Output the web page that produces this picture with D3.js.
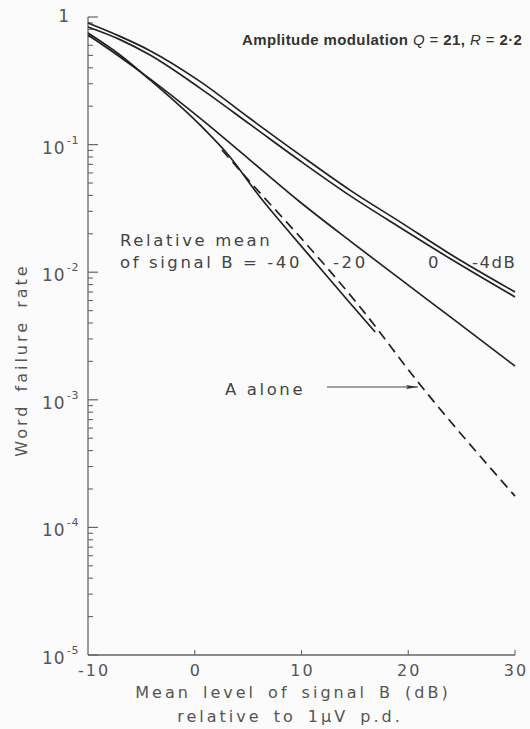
<!DOCTYPE html>
<html>
<head>
<meta charset="utf-8">
<script src="https://cdn.jsdelivr.net/npm/d3@7"></script>
<style>
  body { margin: 0; background: #fbfbfb; }
  svg { display: block; }
</style>
</head>
<body>
<script>
// Data (x in dB, y = word failure rate)
const xTicks = [-10, 0, 10, 20, 30];
const yDecades = [1, 1e-1, 1e-2, 1e-3, 1e-4, 1e-5];
const yTickLabels = ["1", "-1", "-2", "-3", "-4", "-5"];

const curveMinus4 = [
  [-10, 0.897], [-7.0, 0.705], [-4.19, 0.545], [0.49, 0.313], [5.18, 0.160],
  [9.86, 0.083], [14.54, 0.044], [19.23, 0.0248], [23.91, 0.0139], [30, 0.0070]
];
const curve0 = [
  [-10, 0.835], [-7.0, 0.665], [-4.19, 0.503], [0.49, 0.277], [5.18, 0.144],
  [9.86, 0.0747], [14.54, 0.0398], [19.23, 0.0224], [23.91, 0.0128], [30, 0.0064]
];
const curveMinus20 = [
  [-10, 0.722], [-7.0, 0.486], [-4.19, 0.327], [0.49, 0.161], [5.18, 0.0757],
  [9.86, 0.0355], [14.54, 0.0176], [19.23, 0.00886], [23.91, 0.00448], [30, 0.00184]
];
const curveMinus40 = [
  [-10, 0.749], [-7.0, 0.504], [-4.19, 0.321], [0.49, 0.1425], [3.3, 0.080],
  [6.11, 0.0388], [8.92, 0.0203], [11.73, 0.0108], [14.54, 0.00574], [16.9, 0.0034]
];
const curveAlone = [
  [2.55, 0.0907], [6.11, 0.0418], [9.86, 0.0189], [15.48, 0.00534],
  [20.91, 0.00138], [30, 0.000176]
];

const width = 530;
const height = 729;

const x = d3.scaleLinear().domain([-10, 30]).range([88, 515]);
const y = d3.scaleLog().domain([1e-5, 1]).range([655, 17]);

const ink = '#222';
const grey = '#666';
const labelFont = '"DejaVu Sans", sans-serif';

const svg = d3.select('body')
  .append('svg')
  .attr('width', width)
  .attr('height', height);

// Axes
svg.append('line')
  .attr('x1', x(-10)).attr('x2', x(-10))
  .attr('y1', y(1)).attr('y2', y(1e-5))
  .attr('stroke', grey).attr('stroke-width', 1.3);
svg.append('line')
  .attr('x1', x(-10)).attr('x2', x(30))
  .attr('y1', y(1e-5)).attr('y2', y(1e-5))
  .attr('stroke', grey).attr('stroke-width', 1.3);

// y ticks: decades long, minors short, pointing inward
const yMinor = [];
for (let e = -5; e < 0; e++) {
  for (let m = 2; m <= 9; m++) yMinor.push(m * Math.pow(10, e));
}
svg.append('g')
  .selectAll('line.minor')
  .data(yMinor)
  .join('line')
  .attr('x1', x(-10)).attr('x2', x(-10) + 5)
  .attr('y1', d => y(d)).attr('y2', d => y(d))
  .attr('stroke', grey).attr('stroke-width', 1.1);
svg.append('g')
  .selectAll('line.major')
  .data(yDecades)
  .join('line')
  .attr('x1', x(-10)).attr('x2', x(-10) + 10)
  .attr('y1', d => y(d)).attr('y2', d => y(d))
  .attr('stroke', grey).attr('stroke-width', 1.2);

// y tick labels
const yLab = svg.append('g')
  .attr('font-family', labelFont)
  .attr('fill', '#555');
yDecades.forEach((d, i) => {
  if (i === 0) {
    yLab.append('text')
      .attr('x', 69).attr('y', y(d) + 5)
      .attr('text-anchor', 'end')
      .attr('font-size', 17)
      .text(yTickLabels[i]);
  } else {
    const t = yLab.append('text')
      .attr('x', 42).attr('y', y(d) + 9)
      .attr('font-size', 17)
      .attr('letter-spacing', 1);
    t.append('tspan').text('10');
    t.append('tspan')
      .attr('dy', -10)
      .attr('dx', 1)
      .attr('font-size', 11)
      .text(yTickLabels[i]);
  }
});

// x ticks and labels
svg.append('g')
  .selectAll('line')
  .data(xTicks.slice(1))
  .join('line')
  .attr('x1', d => x(d)).attr('x2', d => x(d))
  .attr('y1', y(1e-5)).attr('y2', y(1e-5) - 5)
  .attr('stroke', grey).attr('stroke-width', 1.1);

svg.append('g')
  .selectAll('text')
  .data(xTicks)
  .join('text')
  .attr('x', d => x(d) + (d < 0 ? 6 : 1))
  .attr('y', 676)
  .attr('text-anchor', 'middle')
  .attr('font-family', labelFont)
  .attr('font-size', 16)
  .attr('letter-spacing', 2)
  .attr('fill', '#555')
  .text(d => d < 0 ? '-' + Math.abs(d) : d);

// Axis titles
const axisTitle = (sel) => sel
  .attr('text-anchor', 'middle')
  .attr('font-family', labelFont)
  .attr('font-size', 16)
  .attr('letter-spacing', 3)
  .attr('word-spacing', 4)
  .attr('fill', '#555');

svg.append('text')
  .attr('x', 293).attr('y', 698)
  .call(axisTitle)
  .text('Mean level of signal B  (dB)');
svg.append('text')
  .attr('x', 290).attr('y', 722)
  .call(axisTitle)
  .text('relative to 1\u03bcV p.d.');
svg.append('text')
  .attr('transform', 'translate(27,360) rotate(-90)')
  .call(axisTitle)
  .text('Word failure rate');

// Title
const title = svg.append('text')
  .attr('x', 242).attr('y', 45)
  .attr('font-family', '"Liberation Sans", Arial, sans-serif')
  .attr('font-size', 15)
  .attr('letter-spacing', 0.4)
  .attr('font-weight', 'bold')
  .attr('fill', '#333');
title.append('tspan').text('Amplitude modulation ');
title.append('tspan').attr('font-style', 'italic').attr('font-weight', 'normal').text('Q');
title.append('tspan').attr('font-weight', 'normal').text(' = ');
title.append('tspan').text('21, ');
title.append('tspan').attr('font-style', 'italic').attr('font-weight', 'normal').text('R');
title.append('tspan').attr('font-weight', 'normal').text(' = ');
title.append('tspan').text('2\u00b72');

// Curves
const line = d3.line()
  .x(d => x(d[0]))
  .y(d => y(d[1]))
  .curve(d3.curveMonotoneX);

const solidCurves = [curveMinus4, curve0, curveMinus20, curveMinus40];
svg.append('g')
  .selectAll('path')
  .data(solidCurves)
  .join('path')
  .attr('d', line)
  .attr('fill', 'none')
  .attr('stroke', ink)
  .attr('stroke-width', 1.7);

svg.append('path')
  .datum(curveAlone)
  .attr('d', line)
  .attr('fill', 'none')
  .attr('stroke', ink)
  .attr('stroke-width', 1.7)
  .attr('stroke-dasharray', '10,6');

// Curve labels
const lab = svg.append('g')
  .attr('font-family', labelFont)
  .attr('font-size', 16.5)
  .attr('letter-spacing', 2.6)
  .attr('fill', '#444');
lab.append('text').attr('x', 120).attr('y', 246).text('Relative mean');
lab.append('text').attr('x', 120).attr('y', 268).text('of signal B = -40');
lab.append('text').attr('x', 333).attr('y', 268).text('-20');
lab.append('text').attr('x', 428).attr('y', 268).text('0');
lab.append('text').attr('x', 472).attr('y', 268).attr('letter-spacing', 1.5).text('-4dB');
lab.append('text').attr('x', 225).attr('y', 395).text('A  alone');

// Arrow to the A-alone curve
svg.append('defs').append('marker')
  .attr('id', 'arrow')
  .attr('viewBox', '0 0 12 6')
  .attr('refX', 12).attr('refY', 3)
  .attr('markerWidth', 12).attr('markerHeight', 6)
  .attr('markerUnits', 'userSpaceOnUse')
  .attr('orient', 'auto')
  .append('path')
  .attr('d', 'M0,1 L12,3 L0,5 L2,3 Z')
  .attr('fill', '#333');
svg.append('line')
  .attr('x1', 327).attr('y1', 387)
  .attr('x2', 418).attr('y2', 387)
  .attr('stroke', '#444')
  .attr('stroke-width', 1.2)
  .attr('marker-end', 'url(#arrow)');
</script>
</body>
</html>
